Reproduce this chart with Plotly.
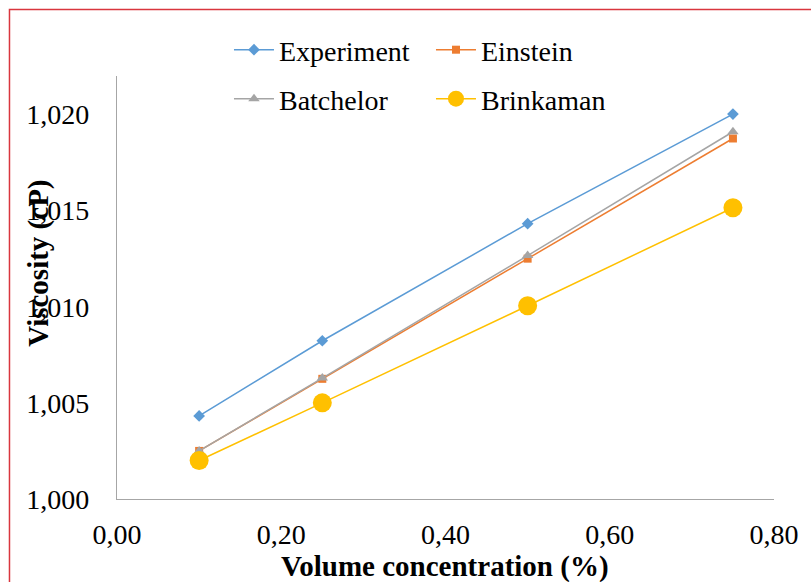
import plotly.graph_objects as go

conc = [0.10, 0.25, 0.50, 0.75]
experiment = [1.00432, 1.00823, 1.01432, 1.02002]
einstein = [1.00250, 1.00625, 1.01250, 1.01875]
batchelor = [1.00250, 1.00629, 1.01266, 1.01910]
brinkaman = [1.00200, 1.00500, 1.01005, 1.01515]

x_ticks = [0.0, 0.2, 0.4, 0.6, 0.8]
y_ticks = [1.000, 1.005, 1.010, 1.015, 1.020]

FONT = "Times New Roman"

fig = go.Figure()
fig.add_trace(go.Scatter(x=conc, y=experiment, name="Experiment", mode="lines+markers",
                         line=dict(color="#5B9BD5", width=1.5),
                         marker=dict(symbol="diamond", size=9, color="#5B9BD5"),
                         legend="legend"))
fig.add_trace(go.Scatter(x=conc, y=einstein, name="Einstein", mode="lines+markers",
                         line=dict(color="#ED7D31", width=1.5),
                         marker=dict(symbol="square", size=8, color="#ED7D31"),
                         legend="legend"))
fig.add_trace(go.Scatter(x=conc, y=batchelor, name="Batchelor", mode="lines+markers",
                         line=dict(color="#A5A5A5", width=1.5),
                         marker=dict(symbol="triangle-up", size=10, color="#A5A5A5"),
                         legend="legend2"))
fig.add_trace(go.Scatter(x=conc, y=brinkaman, name="Brinkaman", mode="lines+markers",
                         line=dict(color="#FFC000", width=1.5),
                         marker=dict(symbol="circle", size=19, color="#FFC000"),
                         legend="legend2"))

L, R, T, B = 117, 31, 76, 83
W, H = 811, 582
pw, ph = W - L - R, H - T - B

def px(xp):
    return (xp - L) / pw

def py(yp):
    return (H - B - yp) / ph

legend_common = dict(orientation="h", font=dict(family=FONT, size=28, color="#000000"),
                     bgcolor="rgba(0,0,0,0)", entrywidth=147, entrywidthmode="pixels",
                     xanchor="left", yanchor="middle", itemwidth=40, tracegroupgap=0)

fig.update_layout(
    width=W, height=H,
    margin=dict(l=L, r=R, t=T, b=B),
    paper_bgcolor="white", plot_bgcolor="white",
    separators=", ",
    font=dict(family=FONT, size=28, color="#000000"),
    showlegend=True,
    legend=dict(x=px(230), y=py(50), **legend_common),
    legend2=dict(x=px(230), y=py(99), **legend_common),
    xaxis=dict(range=[0, 0.8], tickvals=x_ticks, tickformat=".2f",
               showgrid=False, zeroline=False, showline=True, linecolor="#A6A6A6", linewidth=1.3,
               ticks="", ticklabelstandoff=10,
               tickfont=dict(family=FONT, size=28, color="#000000")),
    yaxis=dict(range=[1.0, 1.022], tickvals=y_ticks, tickformat=".3f",
               showgrid=False, zeroline=False, showline=True, linecolor="#A6A6A6", linewidth=1.3,
               ticks="", ticklabelstandoff=21,
               tickfont=dict(family=FONT, size=28, color="#000000")),
    annotations=[
        dict(text="<b>Volume concentration (%)</b>", xref="paper", yref="paper",
             x=px(448), y=py(566), xanchor="center", yanchor="middle", showarrow=False,
             font=dict(family=FONT, size=29, color="#000000")),
        dict(text="<b>Viscosity (cP)</b>", xref="paper", yref="paper",
             x=px(37), y=py(263), xanchor="center", yanchor="middle", showarrow=False,
             textangle=-90, font=dict(family=FONT, size=29, color="#000000")),
    ],
    shapes=[
        dict(type="rect", xref="paper", yref="paper",
             x0=px(8.5), x1=px(830), y0=py(600), y1=py(9.5),
             line=dict(color="#D9363E", width=1.5), fillcolor="rgba(0,0,0,0)", layer="above"),
    ],
)

fig.write_html("out.html")
